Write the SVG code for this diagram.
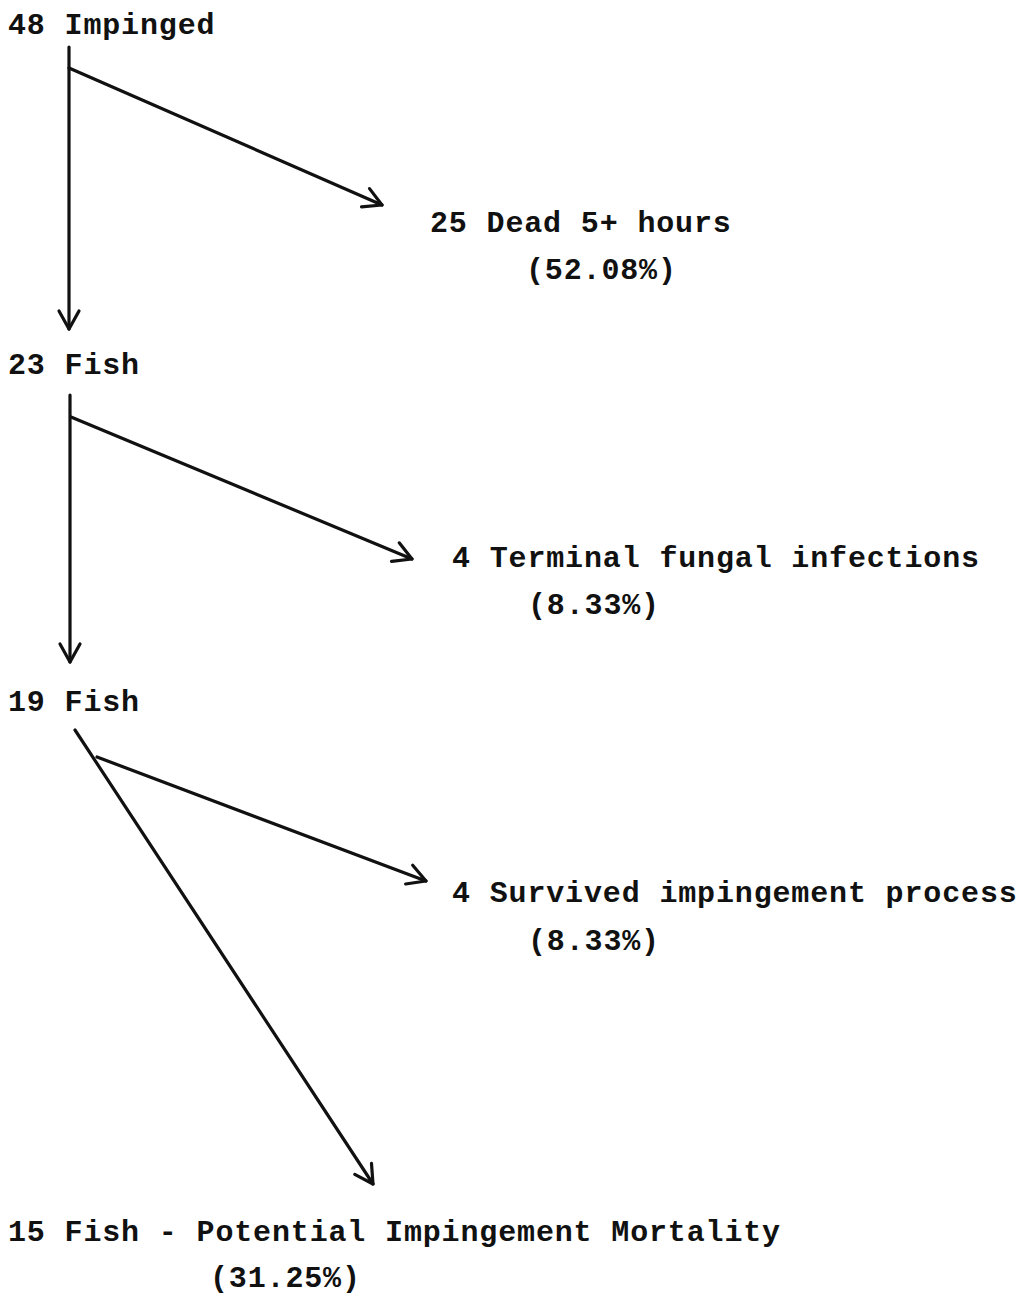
<svg xmlns="http://www.w3.org/2000/svg" width="1022" height="1296" viewBox="0 0 1022 1296">
  <style>
    .t { font-family: "Liberation Mono", "DejaVu Sans Mono", monospace; font-size: 30px; font-weight: bold; letter-spacing: 0.85px; fill: #111; }
    .c { fill: none; stroke: #111; stroke-width: 3.2; stroke-linecap: round; }
  </style>
  <defs>
    <marker id="vee" markerUnits="userSpaceOnUse" viewBox="-24 -14 28 28" markerWidth="28" markerHeight="28" refX="0" refY="0" orient="auto">
      <path d="M-18,-10 L0,0 L-18,10" fill="none" stroke="#111" stroke-width="3.2" stroke-linecap="round" stroke-linejoin="round"/>
    </marker>
  </defs>
  <rect width="1022" height="1296" fill="#fff"/>

  <!-- connectors -->
  <g id="connectors">
    <path class="c" d="M69,47 V329" marker-end="url(#vee)"/>
    <path class="c" d="M69,68 L382,205" marker-end="url(#vee)"/>
    <path class="c" d="M70,395 V662" marker-end="url(#vee)"/>
    <path class="c" d="M71,417 L412,559" marker-end="url(#vee)"/>
    <path class="c" d="M75,730 L373,1184" marker-end="url(#vee)"/>
    <path class="c" d="M97,757 L426,881" marker-end="url(#vee)"/>
  </g>

  <!-- nodes -->
  <g id="impinged"><text class="t" x="8" y="34">48 Impinged</text></g>
  <g id="dead"><text class="t" x="430" y="232">25 Dead 5+ hours</text><text class="t" x="526" y="279">(52.08%)</text></g>
  <g id="fish23"><text class="t" x="8" y="374">23 Fish</text></g>
  <g id="fungal"><text class="t" x="452" y="567">4 Terminal fungal infections</text><text class="t" x="528" y="614">(8.33%)</text></g>
  <g id="fish19"><text class="t" x="8" y="711">19 Fish</text></g>
  <g id="survived"><text class="t" x="452" y="902">4 Survived impingement process</text><text class="t" x="528" y="950">(8.33%)</text></g>
  <g id="mortality"><text class="t" x="8" y="1241">15 Fish - Potential Impingement Mortality</text><text class="t" x="210" y="1287">(31.25%)</text></g>
</svg>
